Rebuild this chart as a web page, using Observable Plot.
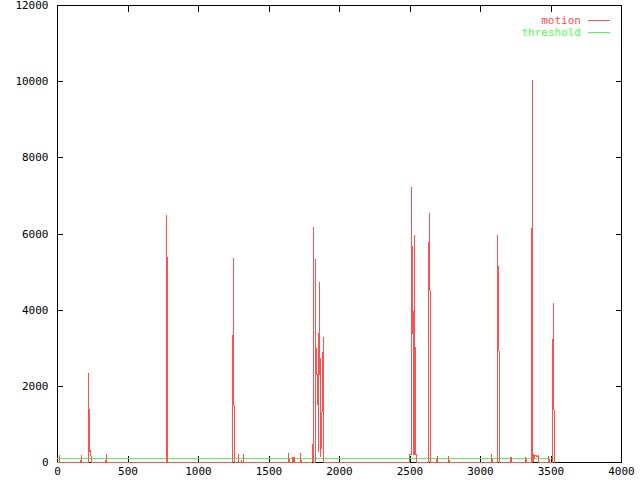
<!DOCTYPE html>
<html>
<head>
<meta charset="utf-8">
<script src="https://cdn.jsdelivr.net/npm/d3@7"></script>
<script src="https://cdn.jsdelivr.net/npm/@observablehq/plot@0.6"></script>
<style>
  html, body { margin: 0; padding: 0; background: #fff; }
  #chart svg { display: block; }
</style>
</head>
<body>
<div id="chart"></div>
<script>
// motion series (x, y)
const motionX = [
  0, 14, 16, 18, 166, 168, 170,
  218, 222, 225, 228, 232, 236, 240,
  343, 347, 350,
  772, 775, 779, 782,
  1243, 1246, 1252, 1256,
  1281, 1284, 1287, 1302, 1305, 1308, 1316, 1319, 1322,
  1636, 1640, 1643, 1666, 1668, 1672, 1676, 1680, 1684, 1721, 1725, 1728,
  1805, 1809, 1813, 1816, 1819, 1827, 1830, 1833, 1835, 1840, 1846, 1850, 1853, 1856, 1860, 1864, 1867, 1871, 1874, 1878, 1881, 1884, 1888,
  2496, 2499, 2511, 2513, 2516, 2520, 2523, 2527, 2531, 2534, 2537, 2546, 2549,
  2630, 2634, 2638, 2641, 2644,
  2690, 2693, 2696, 2772, 2775, 2778,
  3077, 3080, 3083,
  3120, 3123, 3127, 3131, 3134,
  3213, 3216, 3220, 3223, 3319, 3322, 3325,
  3361, 3364, 3367, 3369, 3372, 3376, 3380, 3383, 3395, 3400, 3409, 3412,
  3482, 3485, 3488,
  3510, 3513, 3517, 3520, 3522
];
const motionY = [
  0, 0, 180, 0, 0, 180, 0,
  0, 2350, 400, 300, 330, 300, 0,
  0, 200, 0,
  0, 6500, 3800, 0,
  0, 5350, 1400, 0,
  0, 200, 0, 0, 40, 0, 0, 200, 0,
  0, 250, 0, 0, 120, 0, 140, 140, 0, 0, 240, 0,
  0, 470, 0, 6180, 0, 0, 5330, 2990, 2990, 2310, 2310, 300, 3400, 2300, 4720, 300, 150, 600, 580, 2070, 2070, 3280, 0,
  0, 200, 200, 7230, 3400, 3400, 3970, 200, 200, 5960, 200, 200, 0,
  0, 5790, 5790, 6550, 0,
  0, 150, 0, 0, 150, 0,
  0, 210, 0,
  0, 5960, 3200, 3200, 0,
  0, 140, 140, 0, 0, 140, 0,
  0, 6140, 6140, 10030, 0, 210, 100, 180, 180, 150, 180, 0,
  0, 150, 0,
  0, 3240, 3240, 4170, 0
];
// threshold series
const thresholdX = [0, 3520];
const thresholdY = [100, 100];
// axis ticks
const xTicks = [0, 500, 1000, 1500, 2000, 2500, 3000, 3500, 4000];
const yTicks = [0, 2000, 4000, 6000, 8000, 10000, 12000];
// legend
const seriesNames = ["motion", "threshold"];
const seriesColors = ["#ff5050", "#50ff50"];

const motion = motionX.map((x, i) => ({x, y: motionY[i]}));
const threshold = thresholdX.map((x, i) => ({x, y: thresholdY[i]}));
const fmt = d3.format("d");

const chart = Plot.plot({
  width: 640,
  height: 480,
  marginLeft: 57,
  marginRight: 19,
  marginTop: 5,
  marginBottom: 18,
  style: {fontFamily: "DejaVu Sans Mono", fontSize: "11px", color: "#000", background: "#fff"},
  x: {domain: [0, 4000], ticks: xTicks, tickFormat: fmt},
  y: {domain: [0, 12000], ticks: yTicks, tickFormat: fmt},
  marks: [
    Plot.frame({stroke: "#000", shapeRendering: "crispEdges"}),
    Plot.axisX({anchor: "bottom", ticks: xTicks, tickSize: 0, tickPadding: 5, tickFormat: fmt, label: null, fill: "#000"}),
    Plot.axisX({anchor: "bottom", ticks: xTicks, tickSize: -6, tickFormat: () => "", label: null, stroke: "#000", strokeOpacity: 1, shapeRendering: "crispEdges"}),
    Plot.axisX({anchor: "top", ticks: xTicks, tickSize: -6, tickFormat: () => "", label: null, stroke: "#000", strokeOpacity: 1, shapeRendering: "crispEdges"}),
    Plot.axisY({anchor: "left", ticks: yTicks, tickSize: 0, tickPadding: 9, tickFormat: fmt, label: null, fill: "#000"}),
    Plot.axisY({anchor: "left", ticks: yTicks, tickSize: -6, tickFormat: () => "", label: null, stroke: "#000", strokeOpacity: 1, shapeRendering: "crispEdges"}),
    Plot.axisY({anchor: "right", ticks: yTicks, tickSize: -6, tickFormat: () => "", label: null, stroke: "#000", strokeOpacity: 1, shapeRendering: "crispEdges"}),
    Plot.line(threshold, {x: "x", y: "y", stroke: seriesColors[1], strokeWidth: 1, shapeRendering: "crispEdges"}),
    Plot.line(motion, {x: "x", y: "y", stroke: seriesColors[0], strokeWidth: 1, shapeRendering: "crispEdges"})
  ]
});
document.getElementById("chart").appendChild(chart);

// legend (inside the plot, top right)
const svg = d3.select(chart);
const legendRows = [20.5, 32.5];
seriesNames.forEach((name, i) => {
  svg.append("text")
    .attr("x", 581).attr("y", legendRows[i])
    .attr("dy", "0.35em")
    .attr("text-anchor", "end")
    .attr("fill", seriesColors[i])
    .style("font-family", "DejaVu Sans Mono")
    .style("font-size", "11px")
    .text(name);
  svg.append("line")
    .attr("x1", 588).attr("x2", 610)
    .attr("y1", legendRows[i]).attr("y2", legendRows[i])
    .attr("stroke", seriesColors[i])
    .attr("stroke-width", 1)
    .attr("shape-rendering", "crispEdges");
});
</script>
</body>
</html>
